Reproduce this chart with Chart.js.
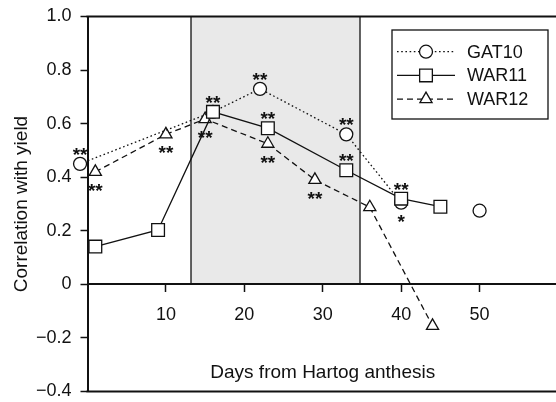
<!DOCTYPE html>
<html><head><meta charset="utf-8">
<script src="https://cdn.jsdelivr.net/npm/chart.js@4.4.0/dist/chart.umd.min.js"></script>
<style>
html,body{margin:0;padding:0;background:#fff;overflow:hidden;width:556px;height:402px}
#wrap{position:relative;width:558px;height:402px}
</style>
</head><body><div id="wrap"><canvas id="c" width="558" height="402"></canvas></div>
<script>
// ---- data ----
const seriesNames = ['GAT10', 'WAR11', 'WAR12'];
const daysGAT10 = [-0.95, 16, 22, 33, 40, 45, 50];
const corrGAT10 = [0.45, 0.644, 0.73, 0.56, 0.305, null, 0.275];
const daysWAR11 = [1, 9, 16, 23, 33, 40, 45];
const corrWAR11 = [0.141, 0.203, 0.644, 0.583, 0.426, 0.32, 0.29];
const daysWAR12 = [1, 10, 15, 23, 29, 36, 44];
const corrWAR12 = [0.42, 0.56, 0.617, 0.525, 0.39, 0.288, -0.155];
// significance marks per point: [text, side]
const sigGAT10 = [['**', 'above'], null, ['**', 'above'], ['**', 'above'], ['*', 'below'], null, null];
const sigWAR11 = [null, null, ['**', 'above'], ['**', 'above'], ['**', 'above'], ['**', 'above'], null];
const sigWAR12 = [['**', 'below'], ['**', 'below'], ['**', 'below'], ['**', 'below'], ['**', 'below'], null, null];
const xTicks = [10, 20, 30, 40, 50];
const yTicks = [-0.4, -0.2, 0, 0.2, 0.4, 0.6, 0.8, 1.0];
const xRange = [0, 60];
const yRange = [-0.4, 1.0];
const shadedDays = [13.2, 34.75];
const xTitle = 'Days from Hartog anthesis';
const yTitle = 'Correlation with yield';

// ---- styles ----
const FONT = 'Liberation Sans, Arial, Helvetica, sans-serif';
const INK = '#111';
const pts = (xs, ys) => xs.map((x, i) => ({x: x, y: ys[i]}));

const styles = {
  GAT10: {pointStyle: 'circle', pointRadius: 6.5, borderDash: [1.6, 2.6], order: 1},
  WAR11: {pointStyle: 'rect', pointRadius: 9, borderDash: [], order: 0},
  WAR12: {pointStyle: 'triangle', pointRadius: 7, borderDash: [6, 4], order: 2}
};
const dataBySeries = {
  GAT10: pts(daysGAT10, corrGAT10),
  WAR11: pts(daysWAR11, corrWAR11),
  WAR12: pts(daysWAR12, corrWAR12)
};
const sigBySeries = {GAT10: sigGAT10, WAR11: sigWAR11, WAR12: sigWAR12};

const datasets = seriesNames.map(name => Object.assign({
  label: name,
  data: dataBySeries[name],
  borderColor: INK,
  borderWidth: 1.3,
  pointBackgroundColor: '#fff',
  pointBorderColor: INK,
  pointBorderWidth: 1.3,
  pointHoverRadius: 0,
  fill: false,
  tension: 0,
  spanGaps: false,
  clip: false
}, styles[name]));

const shadePlugin = {
  id: 'shade',
  beforeDraw(chart) {
    const {ctx, scales: {x, y}} = chart;
    const x0 = x.getPixelForValue(shadedDays[0]);
    const x1 = x.getPixelForValue(shadedDays[1]);
    const yt = y.getPixelForValue(yRange[1]);
    const yb = y.getPixelForValue(0);
    ctx.save();
    ctx.fillStyle = '#e9e9e9';
    ctx.fillRect(x0, yt, x1 - x0, yb - yt);
    ctx.strokeStyle = '#222';
    ctx.lineWidth = 1.4;
    ctx.beginPath();
    ctx.moveTo(x0, yt); ctx.lineTo(x0, yb);
    ctx.moveTo(x1, yt); ctx.lineTo(x1, yb);
    ctx.stroke();
    ctx.restore();
  }
};

const framePlugin = {
  id: 'frame',
  afterDatasetsDraw(chart) {
    const {ctx, chartArea: a} = chart;
    ctx.save();
    ctx.strokeStyle = INK;
    ctx.lineWidth = 2.2;
    ctx.beginPath();
    ctx.moveTo(a.left - 1, a.top); ctx.lineTo(a.right, a.top);
    ctx.moveTo(a.left - 1, a.bottom); ctx.lineTo(a.right, a.bottom);
    ctx.moveTo(a.right, a.top); ctx.lineTo(a.right, a.bottom);
    ctx.stroke();
    ctx.restore();
  }
};

const sigPlugin = {
  id: 'sig',
  afterDatasetsDraw(chart) {
    const ctx = chart.ctx;
    const size = 19;
    ctx.save();
    ctx.fillStyle = INK;
    ctx.font = 'bold ' + size + 'px ' + FONT;
    ctx.textAlign = 'center';
    ctx.textBaseline = 'alphabetic';
    chart.data.datasets.forEach((ds, di) => {
      const meta = chart.getDatasetMeta(di);
      const sig = sigBySeries[ds.label];
      meta.data.forEach((el, i) => {
        const s = sig[i];
        if (!s || ds.data[i].y === null) return;
        const cy = el.y + (s[1] === 'above' ? -14 : 14);
        ctx.fillText(s[0], el.x, cy + 0.58 * size);
      });
    });
    ctx.restore();
  }
};

function drawMarker(ctx, style, cx, cy) {
  ctx.beginPath();
  if (style === 'circle') {
    ctx.arc(cx, cy, 6.5, 0, Math.PI * 2);
  } else if (style === 'rect') {
    const h = 9 * Math.SQRT1_2;
    ctx.rect(cx - h, cy - h, 2 * h, 2 * h);
  } else {
    const r = 7;
    ctx.moveTo(cx, cy - r);
    ctx.lineTo(cx + r * Math.sin(Math.PI * 2 / 3), cy + r / 2);
    ctx.lineTo(cx - r * Math.sin(Math.PI * 2 / 3), cy + r / 2);
    ctx.closePath();
  }
  ctx.fillStyle = '#fff';
  ctx.fill();
  ctx.setLineDash([]);
  ctx.lineWidth = 1.3;
  ctx.strokeStyle = INK;
  ctx.stroke();
}

const legendPlugin = {
  id: 'boxLegend',
  afterDraw(chart) {
    const ctx = chart.ctx;
    const bx = 392, by = 30, bw = 156, bh = 89;
    ctx.save();
    ctx.fillStyle = '#fff';
    ctx.fillRect(bx, by, bw, bh);
    ctx.strokeStyle = INK;
    ctx.lineWidth = 1.3;
    ctx.strokeRect(bx, by, bw, bh);
    seriesNames.forEach((name, i) => {
      const cy = by + 21.7 + i * 23.7;
      const st = styles[name];
      ctx.beginPath();
      ctx.setLineDash(st.borderDash);
      ctx.lineWidth = 1.3;
      ctx.strokeStyle = INK;
      ctx.moveTo(bx + 5, cy); ctx.lineTo(bx + 63, cy);
      ctx.stroke();
      drawMarker(ctx, st.pointStyle, bx + 34, cy);
      ctx.fillStyle = INK;
      ctx.font = '18px ' + FONT;
      ctx.textAlign = 'left';
      ctx.textBaseline = 'middle';
      ctx.fillText(name, bx + 75, cy + 1);
    });
    ctx.restore();
  }
};

const fmt = v => {
  if (Math.abs(v) < 1e-9) return '0';
  const s = v.toFixed(1);
  return s.replace('-', '\u2212');
};

new Chart(document.getElementById('c'), {
  type: 'line',
  data: {datasets: datasets},
  plugins: [shadePlugin, framePlugin, sigPlugin, legendPlugin],
  options: {
    responsive: false,
    animation: false,
    events: [],
    layout: {autoPadding: false, padding: {left: 0, right: 0, top: 16.5, bottom: 10.5}},
    plugins: {legend: {display: false}, tooltip: {enabled: false}},
    scales: {
      x: {
        type: 'linear',
        min: xRange[0], max: xRange[1],
        position: {y: 0},
        afterBuildTicks: s => { s.ticks = xTicks.map(v => ({value: v})); },
        afterFit: s => { s.height = 100; s.paddingLeft = 0; s.paddingRight = 0; s.paddingTop = 0; s.paddingBottom = 0; },
        grid: {display: true, drawOnChartArea: false, drawTicks: true, tickLength: 7, tickColor: INK, tickWidth: 1.5},
        border: {display: true, color: INK, width: 2},
        ticks: {color: INK, font: {family: FONT, size: 18}, padding: 13, maxRotation: 0, autoSkip: false},
        title: {display: true, text: xTitle, color: INK, font: {family: FONT, size: 19}, padding: 0}
      },
      y: {
        type: 'linear',
        position: 'left',
        min: yRange[0], max: yRange[1],
        afterBuildTicks: s => { s.ticks = yTicks.map(v => ({value: v})); },
        afterFit: s => { s.width = 87.5; s.paddingTop = 0; s.paddingBottom = 0; s.paddingLeft = 0; s.paddingRight = 0; },
        grid: {display: true, drawOnChartArea: false, drawTicks: true, tickLength: 7, tickColor: INK, tickWidth: 1.5},
        border: {display: true, color: INK, width: 2},
        ticks: {color: INK, font: {family: FONT, size: 18}, padding: 9, callback: v => fmt(v)},
        title: {display: true, text: yTitle, color: INK, font: {family: FONT, size: 19}, padding: {top: 10, bottom: 0}}
      }
    }
  }
});
</script>
</body></html>
